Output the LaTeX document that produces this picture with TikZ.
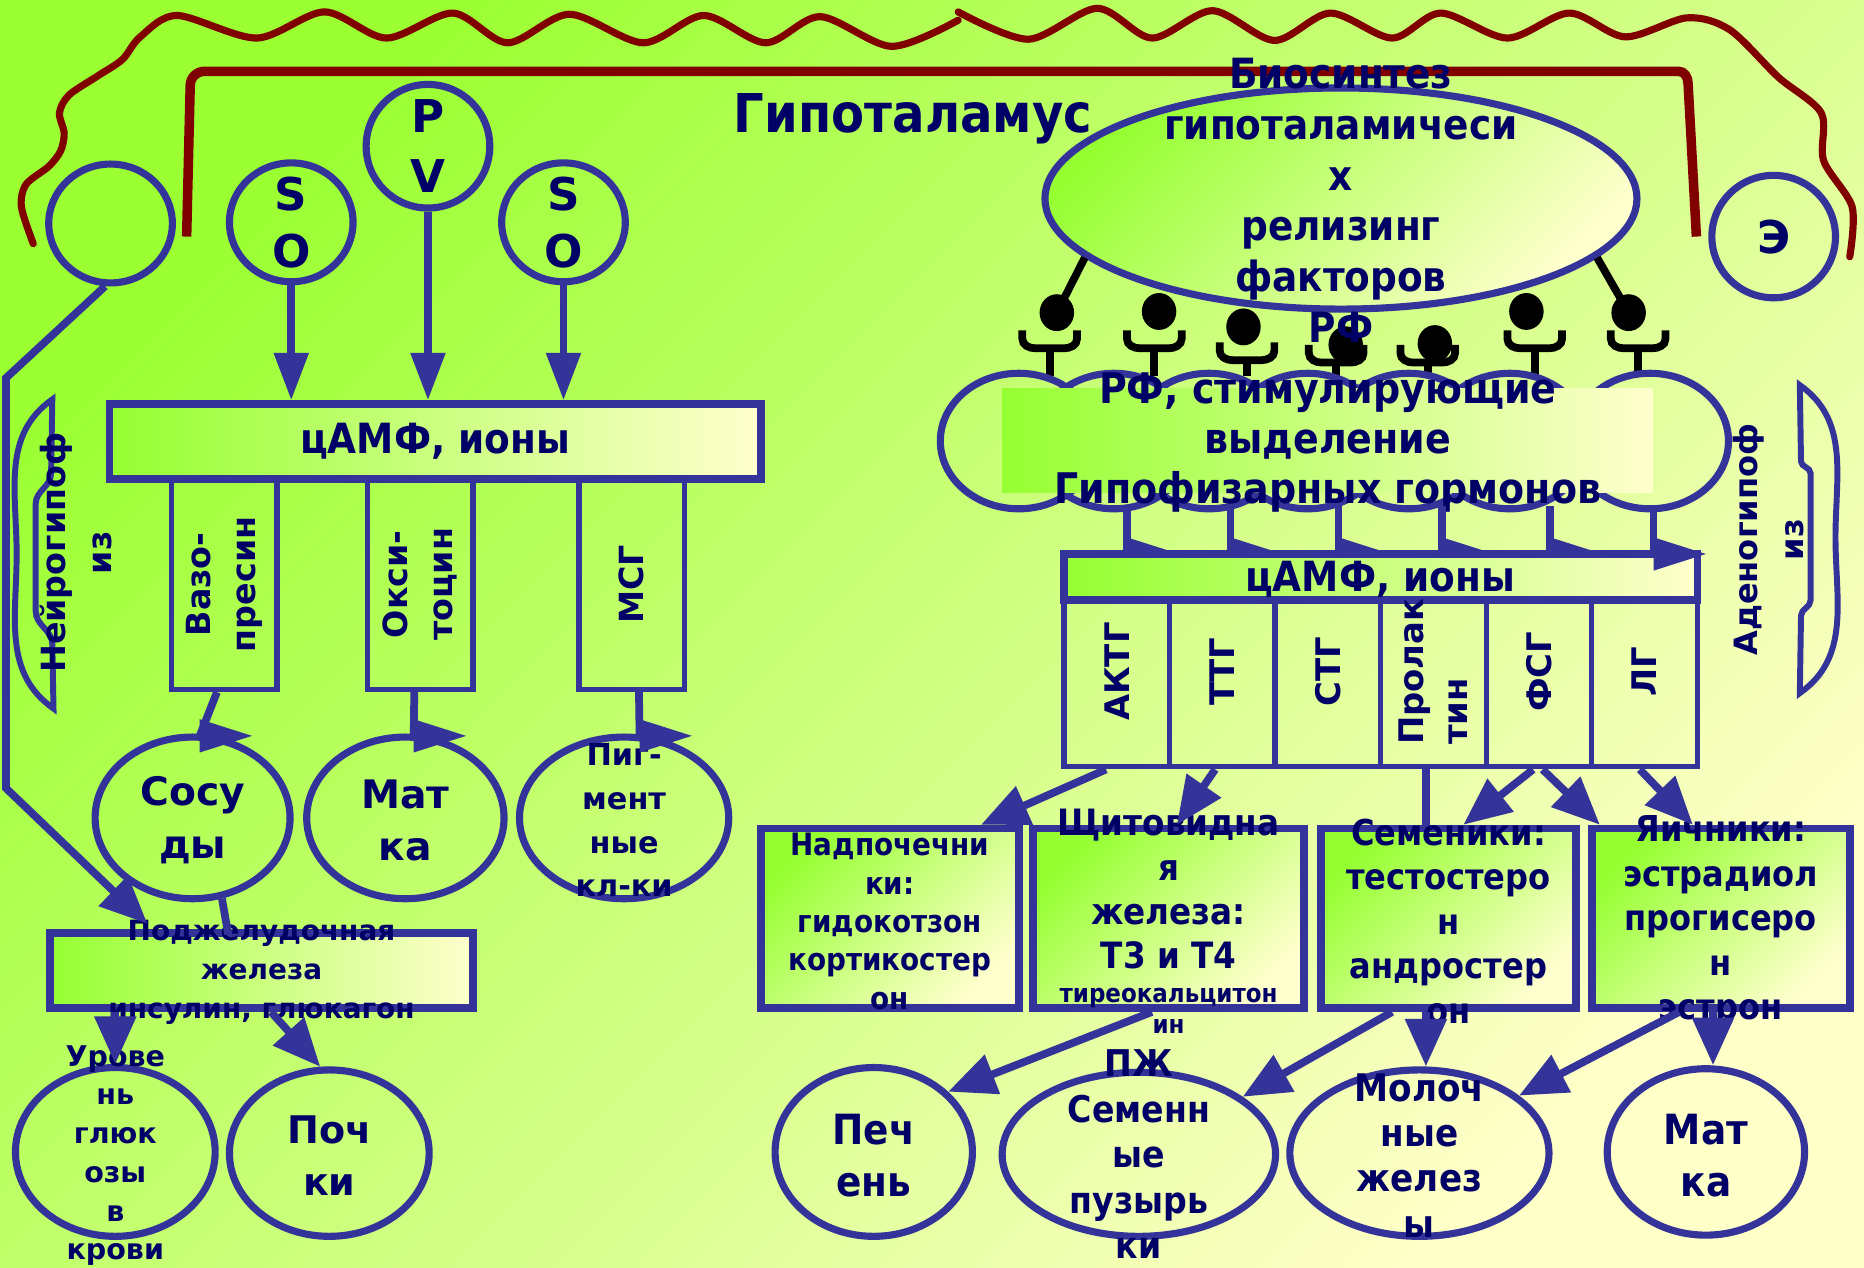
\documentclass[tikz,border=0pt]{standalone}
\usepackage{fontspec}
\setmainfont{DejaVu Sans}
\newfontfamily\narrowfont{DejaVu Sans Condensed}
\usetikzlibrary{shapes.geometric,arrows.meta}
\definecolor{hgreen}{RGB}{150,255,50}
\definecolor{hpale}{RGB}{255,255,205}
\definecolor{bgtop}{RGB}{155,255,50}
\definecolor{bgbot}{RGB}{255,255,200}
\definecolor{hblue}{RGB}{51,51,153}
\definecolor{hnavy}{RGB}{0,0,102}
\definecolor{hred}{RGB}{128,0,0}
\newcommand{\fontV}[2]{\bfseries\fontsize{#1}{#2}\selectfont}
\newcommand{\fontN}[2]{\narrowfont\bfseries\fontsize{#1}{#2}\selectfont}
\newcommand{\rhead}[1]{\fill[hblue] (#1) ++(0,-14) -- ++(44,14) -- ++(-44,14) -- cycle;}
\newcommand{\receptor}[4]{%
  \draw[recep] (#1,#2+15) -- (#1,316);
  \draw[recep] (#1-23,#2) -- (#1-23,#2+7) to[out=-90,in=180] (#1-12,#2+15) -- (#1+12,#2+15) to[out=0,in=-90] (#1+23,#2+7) -- (#1+23,#2);
  \fill (#3,#4) ellipse [x radius=14.5, y radius=15.5];}
\tikzset{
  txt/.style={text=hnavy, align=center, inner sep=0pt},
  hbox/.style={draw=hblue, line width=6.5pt, inner sep=0pt},
  cell/.style={draw=hblue, line width=4.5pt, inner sep=0pt},
  oval/.style={ellipse, draw=hblue, line width=6pt, inner sep=0pt},
  hgrad/.style={left color=hgreen, right color=hpale},
  dgrad/.style={top color=hgreen, bottom color=hpale, shading angle=45},
  link/.style={draw=hblue, line width=6.5pt},
  arr/.style={link, -{Triangle[length=40pt,width=34pt]}},
  sarr/.style={link, -{Triangle[length=40pt,width=28pt]}},
  recep/.style={draw=black, line width=6.5pt},
  wavy/.style={draw=hred, line width=6pt, line cap=round},
}
\begin{document}
\begin{tikzpicture}[x=1pt,y=-1pt]
\useasboundingbox (0,0) rectangle (1568,1066);
\shade[top color=bgtop, bottom color=bgbot, shading angle=45] (0,0) rectangle (1568,1066);
% ---- волна и скоба гипоталамуса ----
\draw[wavy] plot[smooth] coordinates {(28,205) (18,174) (22,155) (41,140) (51,127) (54,112) (50,95) (58,80) (82,64) (103,50) (118,31) (149,13) (216,32) (273,10) (325,32) (381,11) (427,36) (479,12) (541,36) (592,13) (644,36) (690,14) (750,39) (806,17)};
\draw[wavy] plot[smooth] coordinates {(806,10) (865,33) (923,7) (969,32) (1020,9) (1072,34) (1119,11) (1171,32) (1212,11) (1268,32) (1320,11) (1367,31) (1419,15) (1455,25) (1496,65) (1532,95) (1534,135) (1558,174) (1556,216)};
\draw[hred, line width=8pt] (157,199) -- (160,72) to[out=90,in=180] (172,60) -- (1412,60) to[out=0,in=90] (1420,70) -- (1427,199);
\node[txt, font=\fontN{45}{50}] (hypo) at (768,100) {Гипоталамус};
% ---- ядра SO, PV ----
\node[oval, minimum width=104pt, minimum height=100pt] (empty) at (93,188) {};
\node[oval, minimum width=104pt, minimum height=100pt] (so1) at (245,187) {};
\node[oval, minimum width=104pt, minimum height=104pt] (pv) at (360,123) {};
\node[oval, minimum width=104pt, minimum height=100pt] (so2) at (474,187) {};
\node[txt, font=\fontV{38}{48}] (so1txt) at (so1) {S\\O};
\node[txt, font=\fontV{38}{50}] (pvtxt) at (pv) {P\\V};
\node[txt, font=\fontV{38}{48}] (so2txt) at (so2) {S\\O};
\node[hbox, hgrad, minimum width=548pt, minimum height=63pt] (camf1) at (366,371.5) {};
\node[txt, font=\fontN{35}{40}] (camf1txt) at (camf1) {цАМФ, ионы};
\draw[sarr] (so1.south) -- (so1.south |- camf1.north);
\draw[sarr] (pv.south) -- (pv.south |- camf1.north);
\draw[sarr] (so2.south) -- (so2.south |- camf1.north);
% ---- гормоны нейрогипофиза ----
\node[cell, minimum width=89pt, minimum height=177pt] (vazo) at (188.5,491.5) {};
\node[cell, minimum width=89pt, minimum height=177pt] (oksi) at (353.5,491.5) {};
\node[cell, minimum width=89pt, minimum height=177pt] (msg) at (531.5,491.5) {};
\node[txt, rotate=90, font=\fontV{28}{38}] (vazotxt) at (vazo) {Вазо-\\пресин};
\node[txt, rotate=90, font=\fontV{28}{38}] (oksitxt) at (oksi) {Окси-\\тоцин};
\node[txt, rotate=90, font=\fontV{28}{38}] (msgtxt) at (msg) {МСГ};
\node[oval, minimum width=164pt, minimum height=136pt] (sosudy) at (162,688) {};
\node[oval, minimum width=166pt, minimum height=136pt] (matka1) at (341,688) {};
\node[oval, minimum width=176pt, minimum height=136pt] (pigm) at (525,688) {};
\node[txt, font=\fontV{33}{44}] (sosudytxt) at (162,690) {Сосу\\ды};
\node[txt, font=\fontV{33}{44}] (matka1txt) at (341,690) {Мат\\ка};
\node[txt, font=\fontV{25.5}{36.7}] (pigmtxt) at (525,690) {Пиг-\\мент\\ные\\кл-ки};
\coordinate (hsos) at (168,619);
\coordinate (hmat) at (348,619);
\coordinate (hpig) at (538,619);
\draw[link] ([xshift=-6pt]vazo.south) -- (hsos);
\draw[link] ([xshift=-5pt]oksi.south) -- (hmat);
\draw[link] ([xshift=6pt]msg.south) -- (hpig);
\rhead{hsos}
\rhead{hmat}
\rhead{hpig}
% ---- поджелудочная ----
\node[hbox, hgrad, minimum width=356pt, minimum height=63pt] (pzh) at (220,816.5) {};
\node[txt, font=\fontV{23.5}{32.5}] (pzhtxt) at (220,818) {Поджелудочная\\железа\\инсулин, глюкагон};
\coordinate (nlA) at (5,318);
\coordinate (nlB) at (5,663);
\coordinate (pzhin) at (124,777);
\coordinate (sosout) at (192,786);
\draw[arr] (empty.265) -- (nlA) -- (nlB) -- (pzhin);
\draw[link] (sosudy.290) -- (sosout);
\node[oval, minimum width=168pt, minimum height=142pt] (gluk) at (97,969) {};
\node[oval, minimum width=168pt, minimum height=140pt] (pochki) at (277,970) {};
\node[txt, font=\fontV{24}{32.6}] (gluktxt) at (97,972) {Урове\\нь\\глюк\\озы\\в\\крови};
\node[txt, font=\fontV{32}{44}] (pochkitxt) at (277,972) {Поч\\ки};
\draw[arr] (pzh.south -| gluk.north) -- (gluk.north);
\draw[arr] ([xshift=8pt]pzh.south) -- (pochki.96);
% ---- нейрогипофиз ----
\draw[hblue, line width=5pt] (44,336) to[out=215,in=90] (14,466) to[out=-90,in=145] (45,596) -- (44,542) to[out=90,in=-90] (30,514) -- (30,424) to[out=90,in=-90] (43,398) -- cycle;
\node[txt, rotate=90, font=\fontV{28}{38}] (neuro) at (64,465) {Нейрогипоф\\из};
% ---- биосинтез РФ ----
\node[oval, dgrad, minimum width=498pt, minimum height=186pt] (bio) at (1128,167) {};
\coordinate (ball1) at (889,263);
\coordinate (ball7) at (1370,263);
\draw[recep] (bio.193) -- (ball1);
\draw[recep] (bio.-13) -- (ball7);
\foreach \sx/\cy/\bx/\by in {883/278/889/263, 971/278/975/262, 1049/288/1046/275, 1124/290/1132/290, 1201/290/1207/289, 1291/278/1284/262, 1378/278/1370/263}
  {\receptor{\sx}{\cy}{\bx}{\by}}
\node[txt, font=\fontN{35}{42.6}] (biotxt) at (1128,168.5) {Биосинтез\\гипоталамичеси\\х\\релизинг\\факторов\\РФ};
\foreach \cx in {857,937,1017,1100,1185,1270,1388}
  \draw[hblue, line width=6pt] (\cx,371) ellipse [x radius=66, y radius=57];
\node[hgrad, inner sep=0pt, minimum width=547pt, minimum height=87pt] (rf) at (1116.5,370.5) {};
\node[txt, font=\fontN{35.5}{42}] (rftxt) at (1117,372) {РФ, стимулирующие\\выделение\\Гипофизарных гормонов};
\foreach \lx [count=\i] in {948,1035,1126,1213,1304,1391}
  {\coordinate (drop\i) at (\lx,466);
   \draw[link] (\lx,426) -- (drop\i);}
\foreach \i in {1,...,5} {\rhead{drop\i}}
% ---- аденогипофиз ----
\node[hbox, hgrad, minimum width=533pt, minimum height=39pt] (camf2) at (1161.5,485.5) {};
\node[txt, font=\fontN{35}{40}] (camf2txt) at (1161,487) {цАМФ, ионы};
\rhead{drop6}
\foreach \h [count=\i] in {АКТГ,ТТГ,СТГ,{Пролак\\тин},ФСГ,ЛГ}
  {\node[cell, minimum width=88.8pt, minimum height=140pt] (cell\i) at ({895+88.8*(\i-0.5)},575) {};
   \node[txt, rotate=90, align=left, font=\fontV{28.5}{37}] (celltxt\i) at ({895+88.8*(\i-0.5)},565) {\h};}
\draw[hblue, line width=5pt] (1514,324) to[out=-35,in=90] (1544,452) to[out=-90,in=35] (1514,583) -- (1515,518) to[out=90,in=-90] (1523,505) -- (1523,398) to[out=90,in=-90] (1515,388) -- cycle;
\node[txt, rotate=90, font=\fontV{27}{39}] (adeno) at (1487.5,454) {Аденогипоф\\из};
\node[oval, minimum width=104pt, minimum height=103pt] (ekst) at (1492,199) {};
\node[txt, font=\fontV{38}{44}] (eksttxt) at (ekst) {Э};
% ---- железы ----
\node[hbox, dgrad, minimum width=217pt, minimum height=151pt] (nadp) at (748.5,772.5) {};
\node[hbox, dgrad, minimum width=228pt, minimum height=151pt] (shch) at (983,772.5) {};
\node[hbox, dgrad, minimum width=215pt, minimum height=151pt] (sem) at (1218.5,772.5) {};
\node[hbox, dgrad, minimum width=217pt, minimum height=151pt] (yaich) at (1447.5,772.5) {};
\node[txt, font=\fontN{26}{32.25}] (nadptxt) at (748.5,775) {Надпочечни\\ки:\\гидокотзон\\кортикостер\\он};
\node[txt, font=\fontN{30.5}{37.3}] (shchtxt) at (983,748) {Щитовидна\\я\\железа:\\Т3 и Т4};
\node[txt, font=\fontN{21.5}{26}] (shchsmall) at (983,850) {тиреокальцитон\\ин};
\node[txt, font=\fontN{30}{37.5}] (semtxt) at (1218.5,775) {Семеники:\\тестостеро\\н\\андростер\\он};
\node[txt, font=\fontN{30}{37.5}] (yaichtxt) at (1447.5,775) {Яичники:\\эстрадиол\\прогисеро\\н\\эстрон};
\draw[arr] ([xshift=-9pt]cell1.south) -- ([xshift=-35pt]nadp.north east);
\draw[arr] ([xshift=-6pt]cell2.south) -- ([xshift=7pt]shch.north);
\draw[link] ([xshift=-6pt]cell4.south) -- ([xshift=-6pt]cell4.south |- sem.north);
\draw[arr] ([xshift=-5pt]cell5.south) -- ([xshift=12.5pt]sem.north);
\draw[arr] ([xshift=3pt]cell5.south) -- ([xshift=10pt]yaich.north west);
\draw[arr] ([xshift=-4pt]cell6.south) -- ([xshift=-23.5pt]yaich.north);
% ---- органы-мишени ----
\node[oval, minimum width=166pt, minimum height=142pt] (pechen) at (735,969) {};
\node[oval, minimum width=230pt, minimum height=138pt] (semp) at (958,971) {};
\node[oval, minimum width=218pt, minimum height=140pt] (molok) at (1194,970) {};
\node[oval, minimum width=166pt, minimum height=140pt] (matka2) at (1435,969) {};
\node[txt, font=\fontN{35}{44}] (pechentxt) at (735,972) {Печ\\ень};
\node[txt, font=\fontN{31}{38.25}] (semptxt) at (958,971) {ПЖ\\Семенн\\ые\\пузырь\\ки};
\node[txt, font=\fontN{32}{38}] (moloktxt) at (1194,972) {Молоч\\ные\\желез\\ы};
\node[txt, font=\fontN{35}{44}] (matka2txt) at (1435,972) {Мат\\ка};
\draw[arr] ([xshift=-14pt]shch.south) -- (pechen.39);
\draw[arr] ([xshift=-47.5pt]sem.south) -- (semp.29);
\draw[arr] ([xshift=-19pt]sem.south) -- ([xshift=-19pt]sem.south |- molok.north);
\draw[arr] ([xshift=-35pt]yaich.south) -- (molok.30);
\draw[arr] ([xshift=-6.5pt]yaich.south) -- ([xshift=-6.5pt]yaich.south |- matka2.north);
\end{tikzpicture}
\end{document}
